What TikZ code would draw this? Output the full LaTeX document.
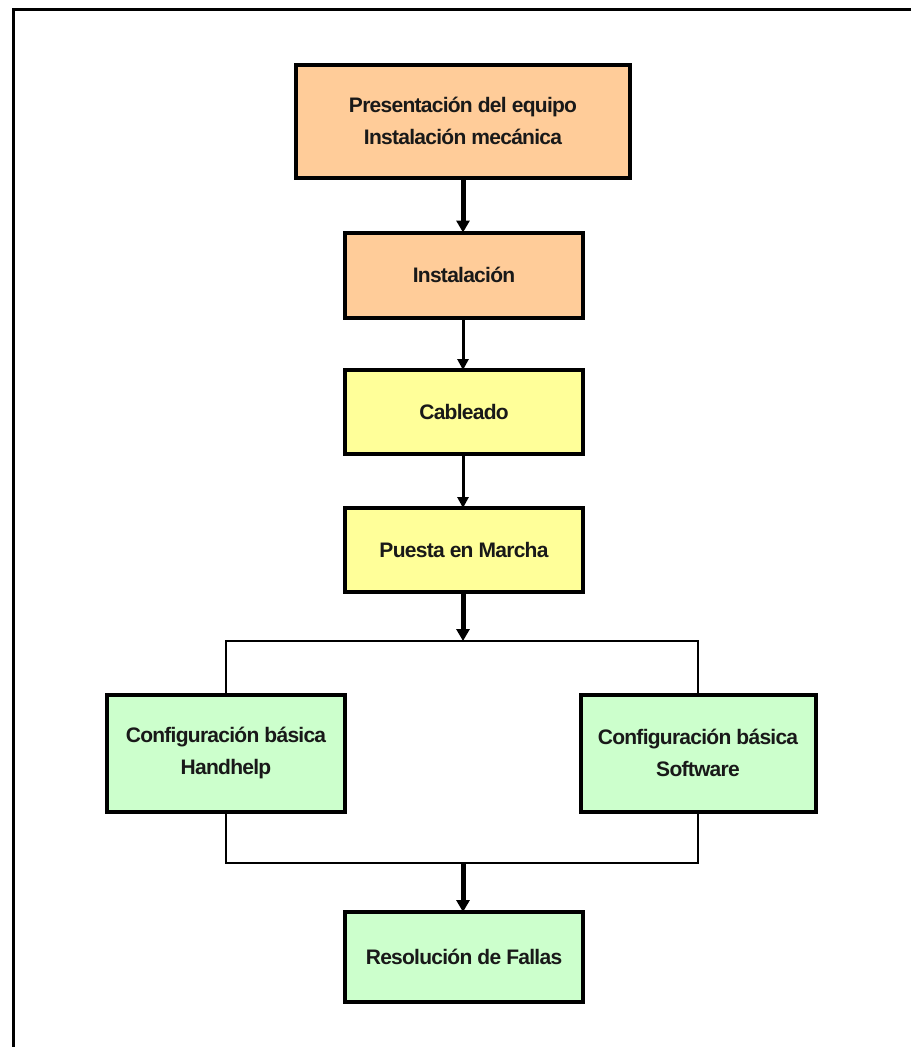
\documentclass[tikz,border=0pt]{standalone}
\usepackage{fontspec}
\setmainfont{Liberation Sans}[LetterSpace=-3.5]
\usetikzlibrary{arrows.meta}
\definecolor{orangebox}{HTML}{FFCC99}
\definecolor{yellowbox}{HTML}{FFFF99}
\definecolor{greenbox}{HTML}{CCFFCC}
\tikzset{
  stepbox/.style={draw=black, line width=4pt, inner sep=0pt, outer sep=0pt,
    align=center, font=\fontsize{21}{32}\selectfont\bfseries, text=black!90},
  thickarrow/.style={line width=5pt, -{Triangle[width=13pt,length=12pt]}},
  thinarrow/.style={line width=3pt, -{Triangle[width=11pt,length=11pt]}},
  link/.style={line width=2pt},
}
\begin{document}
\begin{tikzpicture}[x=1pt, y=-1pt]
\useasboundingbox (0,0) rectangle (911,1047);
\draw[line width=3pt] (911,9) -- (13,9) -- (13,1047);

\node[stepbox, fill=orangebox, minimum width=334pt, minimum height=113pt] (b1) at (463,121)
  {Presentación del equipo\\Instalación mecánica};
\node[stepbox, fill=orangebox, minimum width=238pt, minimum height=85pt] (b2) at (464,275) {Instalación};
\node[stepbox, fill=yellowbox, minimum width=238pt, minimum height=84pt] (b3) at (464,412) {Cableado};
\node[stepbox, fill=yellowbox, minimum width=238pt, minimum height=84pt] (b4) at (464,550) {Puesta en Marcha};
\node[stepbox, fill=greenbox, minimum width=238pt, minimum height=117pt] (b5) at (226,753)
  {Configuración básica\\Handhelp};
\node[stepbox, fill=greenbox, minimum width=235pt, minimum height=117pt] (b6) at (698,753)
  {Configuración básica\\Software};
\node[stepbox, fill=greenbox, minimum width=238pt, minimum height=90pt] (b7) at (464,957) {Resolución de Fallas};

\coordinate (j1) at (463,641);
\coordinate (j2) at (463,863);

\draw[thickarrow] (b1.south -| j1) -- (b2.north -| j1);
\draw[thinarrow] (b2.south -| j1) -- (b3.north -| j1);
\draw[thinarrow] (b3.south -| j1) -- (b4.north -| j1);
\draw[thickarrow] (b4.south -| j1) -- (j1);
\draw[link] (b5.north) |- (j1) -| (b6.north);
\draw[link] (b5.south) |- (j2) -| (b6.south);
\draw[thickarrow] (j2) -- (b7.north -| j2);
\end{tikzpicture}
\end{document}
